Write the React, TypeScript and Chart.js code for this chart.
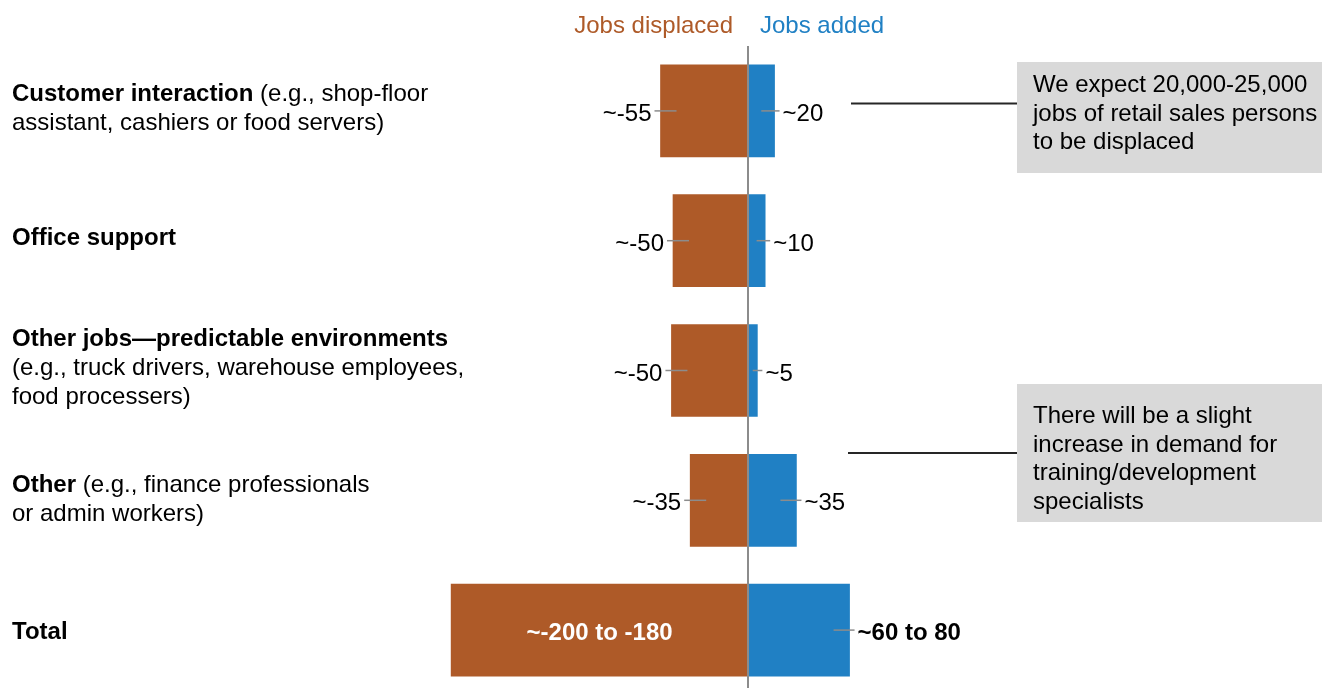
import React, { useEffect, useRef } from "react";
import { Chart, registerables } from "chart.js";

Chart.register(...registerables);

// ---- data ----
const categories = [
  "Customer interaction",
  "Office support",
  "Other jobs—predictable environments",
  "Other",
  "Total",
];
// label lines: [bold part, regular part]
const categoryLines: [string, string][][] = [
  [
    ["Customer interaction", " (e.g., shop-floor"],
    ["", "assistant, cashiers or food servers)"],
  ],
  [["Office support", ""]],
  [
    ["Other jobs—predictable environments", ""],
    ["", "(e.g., truck drivers, warehouse employees,"],
    ["", "food processers)"],
  ],
  [
    ["Other", " (e.g., finance professionals"],
    ["", "or admin workers)"],
  ],
  [["Total", ""]],
];
const jobsDisplaced = [-56, -48, -49, -37, -190];
const jobsAdded = [17, 11, 6, 31, 65];
const displacedLabels = ["~-55", "~-50", "~-50", "~-35", "~-200 to -180"];
const addedLabels = ["~20", "~10", "~5", "~35", "~60 to 80"];
const seriesNames = ["Jobs displaced", "Jobs added"];
const calloutTexts = [
  ["We expect 20,000-25,000", "jobs of retail sales persons", "to be displaced"],
  ["There will be a slight", "increase in demand for", "training/development", "specialists"],
];

const ORANGE = "rgb(174,90,40)";
const BLUE = "rgb(32,128,196)";
const FONT = '"Liberation Sans", Arial, sans-serif';

// vertical nudges of the left-hand category label blocks (layout only)
const LABEL_NUDGE = [-4, -4, -4, -2.5, 0];

const overlayPlugin = {
  id: "overlay",
  afterDatasetsDraw(chart: any) {
    const ctx = chart.ctx as CanvasRenderingContext2D;
    const xs = chart.scales.x;
    const zero = xs.getPixelForValue(0);
    const metaD = chart.getDatasetMeta(0);
    const metaA = chart.getDatasetMeta(1);
    const last = categories.length - 1;
    ctx.save();

    // zero line
    ctx.strokeStyle = "#8c8c8c";
    ctx.lineWidth = 2;
    ctx.beginPath();
    ctx.moveTo(zero, chart.chartArea.top);
    ctx.lineTo(zero, chart.height);
    ctx.stroke();

    // titles
    ctx.font = `24px ${FONT}`;
    ctx.textBaseline = "alphabetic";
    ctx.fillStyle = ORANGE;
    ctx.textAlign = "right";
    ctx.fillText(seriesNames[0], zero - 15, 33);
    ctx.fillStyle = BLUE;
    ctx.textAlign = "left";
    ctx.fillText(seriesNames[1], zero + 12, 33);

    for (let i = 0; i < categories.length; i++) {
      const d = metaD.data[i];
      const a = metaA.data[i];
      const yc = d.y;
      const isTotal = i === last;
      const base = yc + 10;

      // displaced label
      const dEnd = d.x;
      const dLen = Math.abs(zero - dEnd);
      if (isTotal) {
        ctx.font = `bold 24px ${FONT}`;
        ctx.fillStyle = "#ffffff";
        ctx.textAlign = "center";
        ctx.fillText(displacedLabels[i], (dEnd + zero) / 2, base);
      } else {
        ctx.strokeStyle = "#8c8c8c";
        ctx.lineWidth = 1.5;
        ctx.beginPath();
        ctx.moveTo(dEnd - 6, yc);
        ctx.lineTo(dEnd + Math.min(16, dLen / 2), yc);
        ctx.stroke();
        ctx.font = `24px ${FONT}`;
        ctx.fillStyle = "#000000";
        ctx.textAlign = "right";
        ctx.fillText(displacedLabels[i], dEnd - 9, base);
      }

      // added label
      const aEnd = a.x;
      const aLen = Math.abs(aEnd - zero);
      ctx.strokeStyle = "#8c8c8c";
      ctx.lineWidth = 1.5;
      ctx.beginPath();
      ctx.moveTo(aEnd - Math.min(16, aLen / 2), yc);
      ctx.lineTo(aEnd + 5, yc);
      ctx.stroke();
      ctx.font = isTotal ? `bold 24px ${FONT}` : `24px ${FONT}`;
      ctx.fillStyle = "#000000";
      ctx.textAlign = "left";
      ctx.fillText(addedLabels[i], aEnd + 8, base);

      // category labels
      const lines = categoryLines[i];
      const n = lines.length;
      ctx.textAlign = "left";
      for (let k = 0; k < n; k++) {
        const by = yc + LABEL_NUDGE[i] + 8.6 + (k - (n - 1) / 2) * 29;
        let x = 12;
        const [b, r] = lines[k];
        if (b) {
          ctx.font = `bold 24px ${FONT}`;
          ctx.fillText(b, x, by);
          x += ctx.measureText(b).width;
        }
        if (r) {
          ctx.font = `24px ${FONT}`;
          ctx.fillText(r, x, by);
        }
      }
    }

    // callouts
    const boxes = [
      { top: 62, h: 111, lineY: 103.5, lineX: 851, firstBase: 92 },
      { top: 384, h: 138, lineY: 453, lineX: 848, firstBase: 423 },
    ];
    boxes.forEach((bx, j) => {
      ctx.fillStyle = "#d9d9d9";
      ctx.fillRect(1017, bx.top, chart.width - 1017, bx.h);
      ctx.strokeStyle = "#262626";
      ctx.lineWidth = 2;
      ctx.beginPath();
      ctx.moveTo(bx.lineX, bx.lineY);
      ctx.lineTo(1017, bx.lineY);
      ctx.stroke();
      ctx.font = `24px ${FONT}`;
      ctx.fillStyle = "#000000";
      ctx.textAlign = "left";
      calloutTexts[j].forEach((t, k) => {
        ctx.fillText(t, 1033, bx.firstBase + k * 28.7);
      });
    });

    ctx.restore();
  },
};

export default function App() {
  const ref = useRef<HTMLCanvasElement | null>(null);
  useEffect(() => {
    if (!ref.current) return;
    const chart = new Chart(ref.current, {
      type: "bar",
      data: {
        labels: categories,
        datasets: [
          {
            label: seriesNames[0],
            data: jobsDisplaced,
            backgroundColor: ORANGE,
            borderWidth: 0,
            barThickness: 92,
          },
          {
            label: seriesNames[1],
            data: jobsAdded,
            backgroundColor: BLUE,
            borderWidth: 0,
            barThickness: 92,
          },
        ],
      },
      options: {
        indexAxis: "y",
        responsive: false,
        animation: false,
        layout: { padding: { left: 435.5, right: 261.5, top: 46, bottom: 5 } },
        scales: {
          x: { type: "linear", min: -200, max: 200, stacked: true, display: false },
          y: { type: "category", stacked: true, display: false },
        },
        plugins: {
          legend: { display: false },
          tooltip: { enabled: false },
          title: { display: false },
        },
      },
      plugins: [overlayPlugin],
    } as any);
    return () => chart.destroy();
  }, []);
  return (
    <div
      style={{
        position: "fixed",
        left: 0,
        top: 0,
        width: 1322,
        height: 688,
        overflow: "hidden",
        background: "#ffffff",
      }}
    >
      <canvas ref={ref} width={1322} height={700} style={{ display: "block" }} />
    </div>
  );
}
